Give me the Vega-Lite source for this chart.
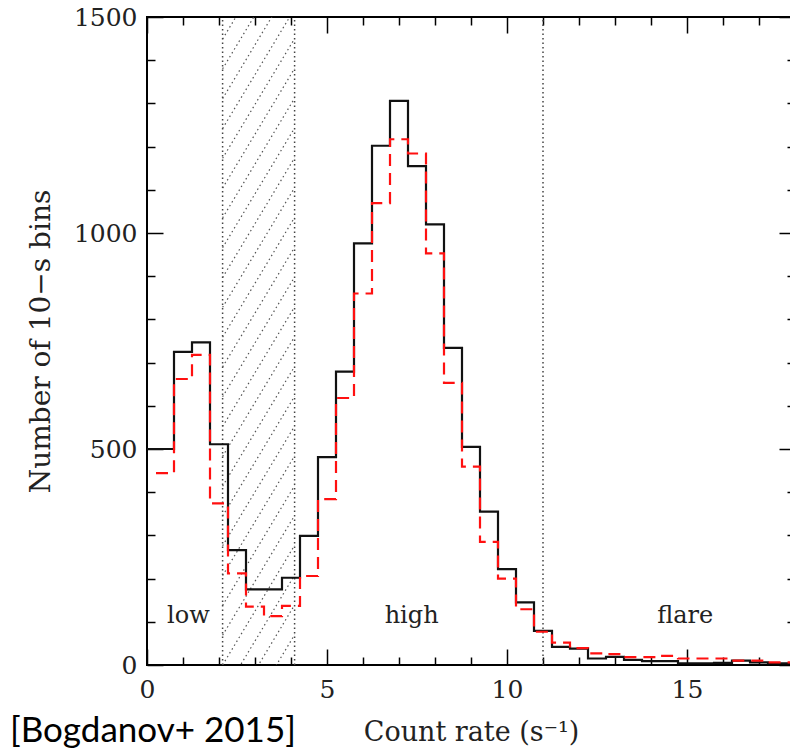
{
  "$schema": "https://vega.github.io/schema/vega-lite/v6.json",
  "autosize": {"type": "none"},
  "padding": {"left": 147, "top": 17, "right": 0, "bottom": 86},
  "width": 648,
  "height": 648,
  "background": "white",
  "title": {"text": "[Bogdanov+ 2015]", "orient": "bottom", "anchor": "start", "frame": "group", "font": "Lato", "fontSize": 35, "fontWeight": "normal", "color": "#000", "dx": -137, "offset": -3, "baseline": "alphabetic"},
  "datasets": {
    "black": [
      {"x": 0, "n": 500}, {"x": 0.75, "n": 725}, {"x": 1.25, "n": 747}, {"x": 1.75, "n": 511},
      {"x": 2.25, "n": 266}, {"x": 2.75, "n": 175}, {"x": 3.25, "n": 175}, {"x": 3.75, "n": 202},
      {"x": 4.25, "n": 299}, {"x": 4.75, "n": 481}, {"x": 5.25, "n": 679}, {"x": 5.75, "n": 976},
      {"x": 6.25, "n": 1202}, {"x": 6.75, "n": 1306}, {"x": 7.25, "n": 1155}, {"x": 7.75, "n": 1020},
      {"x": 8.25, "n": 734}, {"x": 8.75, "n": 505}, {"x": 9.25, "n": 355}, {"x": 9.75, "n": 222},
      {"x": 10.25, "n": 145}, {"x": 10.75, "n": 79}, {"x": 11.25, "n": 42}, {"x": 11.75, "n": 38},
      {"x": 12.25, "n": 15}, {"x": 12.75, "n": 19}, {"x": 13.25, "n": 12}, {"x": 13.75, "n": 9},
      {"x": 14.25, "n": 9}, {"x": 14.75, "n": 4}, {"x": 15.25, "n": 4}, {"x": 15.75, "n": 5},
      {"x": 16.25, "n": 10}, {"x": 16.75, "n": 6}, {"x": 17.25, "n": 4}, {"x": 17.75, "n": 4},
      {"x": 18.25, "n": 4}
    ],
    "red": [
      {"x": 0.25, "n": 444}, {"x": 0.75, "n": 662}, {"x": 1.25, "n": 718}, {"x": 1.75, "n": 374},
      {"x": 2.25, "n": 212}, {"x": 2.75, "n": 135}, {"x": 3.25, "n": 113}, {"x": 3.75, "n": 137},
      {"x": 4.25, "n": 206}, {"x": 4.75, "n": 384}, {"x": 5.25, "n": 618}, {"x": 5.75, "n": 860},
      {"x": 6.25, "n": 1069}, {"x": 6.75, "n": 1217}, {"x": 7.25, "n": 1184}, {"x": 7.75, "n": 953},
      {"x": 8.25, "n": 653}, {"x": 8.75, "n": 459}, {"x": 9.25, "n": 285}, {"x": 9.75, "n": 200},
      {"x": 10.25, "n": 129}, {"x": 10.75, "n": 77}, {"x": 11.25, "n": 52}, {"x": 11.75, "n": 39},
      {"x": 12.25, "n": 27}, {"x": 12.75, "n": 25}, {"x": 13.25, "n": 18}, {"x": 13.75, "n": 18},
      {"x": 14.25, "n": 21}, {"x": 14.75, "n": 15}, {"x": 15.25, "n": 15}, {"x": 15.75, "n": 15},
      {"x": 16.25, "n": 10}, {"x": 16.75, "n": 10}, {"x": 17.25, "n": 6}, {"x": 17.75, "n": 6},
      {"x": 18.25, "n": 6}
    ],
    "hatch": [
      {"x": 2.1, "y": -276, "x2": 4.1, "y2": 1}, {"x": 2.1, "y": -207, "x2": 4.1, "y2": 70},
      {"x": 2.1, "y": -138, "x2": 4.1, "y2": 139}, {"x": 2.1, "y": -69, "x2": 4.1, "y2": 208},
      {"x": 2.1, "y": 0, "x2": 4.1, "y2": 277}, {"x": 2.1, "y": 69, "x2": 4.1, "y2": 346},
      {"x": 2.1, "y": 138, "x2": 4.1, "y2": 415}, {"x": 2.1, "y": 207, "x2": 4.1, "y2": 484},
      {"x": 2.1, "y": 276, "x2": 4.1, "y2": 553}, {"x": 2.1, "y": 345, "x2": 4.1, "y2": 622},
      {"x": 2.1, "y": 414, "x2": 4.1, "y2": 691}, {"x": 2.1, "y": 483, "x2": 4.1, "y2": 760},
      {"x": 2.1, "y": 552, "x2": 4.1, "y2": 829}, {"x": 2.1, "y": 621, "x2": 4.1, "y2": 898},
      {"x": 2.1, "y": 690, "x2": 4.1, "y2": 967}, {"x": 2.1, "y": 759, "x2": 4.1, "y2": 1036},
      {"x": 2.1, "y": 828, "x2": 4.1, "y2": 1105}, {"x": 2.1, "y": 897, "x2": 4.1, "y2": 1174},
      {"x": 2.1, "y": 966, "x2": 4.1, "y2": 1243}, {"x": 2.1, "y": 1035, "x2": 4.1, "y2": 1312},
      {"x": 2.1, "y": 1104, "x2": 4.1, "y2": 1381}, {"x": 2.1, "y": 1173, "x2": 4.1, "y2": 1450},
      {"x": 2.1, "y": 1242, "x2": 4.1, "y2": 1519}, {"x": 2.1, "y": 1311, "x2": 4.1, "y2": 1588},
      {"x": 2.1, "y": 1380, "x2": 4.1, "y2": 1657}, {"x": 2.1, "y": 1449, "x2": 4.1, "y2": 1726}
    ],
    "vlines": [{"x": 2.1}, {"x": 4.1}, {"x": 11.0}],
    "labels": [
      {"x": 1.15, "y": 97, "t": "low"},
      {"x": 7.35, "y": 97, "t": "high"},
      {"x": 14.95, "y": 97, "t": "flare"}
    ]
  },
  "config": {
    "view": {"stroke": "#000", "strokeWidth": 2},
    "axis": {"grid": false, "domain": false, "labelFont": "DejaVu Serif", "titleFont": "DejaVu Serif", "tickColor": "#000", "tickWidth": 1.5, "labelColor": "#222", "titleColor": "#222", "titleFontWeight": "normal", "labelFlush": false, "labelOverlap": false, "format": "d"}
  },
  "resolve": {"axis": {"x": "independent", "y": "independent"}},
  "layer": [
    {
      "data": {"name": "hatch"},
      "mark": {"type": "rule", "clip": true, "color": "#555", "strokeWidth": 1.2, "strokeDash": [1.5, 3]},
      "encoding": {
        "x": {"field": "x", "type": "quantitative", "scale": {"domain": [0, 18], "nice": false, "zero": false},
              "axis": {"orient": "bottom", "values": [0, 5, 10, 15], "ticks": false, "labelPadding": 12, "labelFontSize": 25, "title": "Count rate (s⁻¹)", "titleFontSize": 27, "titlePadding": 17}},
        "x2": {"field": "x2"},
        "y": {"field": "y", "type": "quantitative", "scale": {"domain": [0, 1500], "nice": false},
              "axis": {"orient": "left", "values": [0, 500, 1000, 1500], "ticks": false, "labelPadding": 10, "labelFontSize": 25, "title": "Number of 10−s bins", "titleFontSize": 28, "titlePadding": 18}},
        "y2": {"field": "y2"}
      }
    },
    {
      "data": {"name": "vlines"},
      "mark": {"type": "rule", "color": "#444", "strokeWidth": 1.5, "strokeDash": [1.5, 3]},
      "encoding": {
        "x": {"field": "x", "type": "quantitative", "axis": {"orient": "bottom", "values": [0, 5, 10, 15], "labels": false, "title": null, "tickSize": -16}},
        "y": {"datum": 0, "type": "quantitative", "axis": {"orient": "left", "values": [0, 500, 1000, 1500], "labels": false, "title": null, "tickSize": -16}},
        "y2": {"datum": 1500}
      }
    },
    {
      "data": {"name": "black"},
      "mark": {"type": "line", "interpolate": "step-after", "clip": true, "color": "#111", "strokeWidth": 2.2},
      "encoding": {
        "x": {"field": "x", "type": "quantitative", "axis": {"orient": "bottom", "values": [1, 2, 3, 4, 6, 7, 8, 9, 11, 12, 13, 14, 16, 17], "labels": false, "title": null, "tickSize": -8}},
        "y": {"field": "n", "type": "quantitative", "axis": {"orient": "left", "values": [100, 200, 300, 400, 600, 700, 800, 900, 1100, 1200, 1300, 1400], "labels": false, "title": null, "tickSize": -8}}
      }
    },
    {
      "data": {"name": "red"},
      "mark": {"type": "line", "interpolate": "step-after", "clip": true, "color": "#ff1010", "strokeWidth": 2.2, "strokeDash": [12, 7]},
      "encoding": {
        "x": {"field": "x", "type": "quantitative", "axis": {"orient": "top", "values": [0, 5, 10, 15], "labels": false, "title": null, "tickSize": -16}},
        "y": {"field": "n", "type": "quantitative", "axis": {"orient": "right", "values": [0, 500, 1000, 1500], "labels": false, "title": null, "tickSize": -16}}
      }
    },
    {
      "data": {"name": "labels"},
      "mark": {"type": "text", "font": "DejaVu Serif", "fontSize": 24, "color": "#222", "baseline": "alphabetic", "align": "center"},
      "encoding": {
        "x": {"field": "x", "type": "quantitative", "axis": {"orient": "top", "values": [1, 2, 3, 4, 6, 7, 8, 9, 11, 12, 13, 14, 16, 17], "labels": false, "title": null, "tickSize": -8}},
        "y": {"field": "y", "type": "quantitative", "axis": {"orient": "right", "values": [100, 200, 300, 400, 600, 700, 800, 900, 1100, 1200, 1300, 1400], "labels": false, "title": null, "tickSize": -8}},
        "text": {"field": "t"}
      }
    }
  ]
}
